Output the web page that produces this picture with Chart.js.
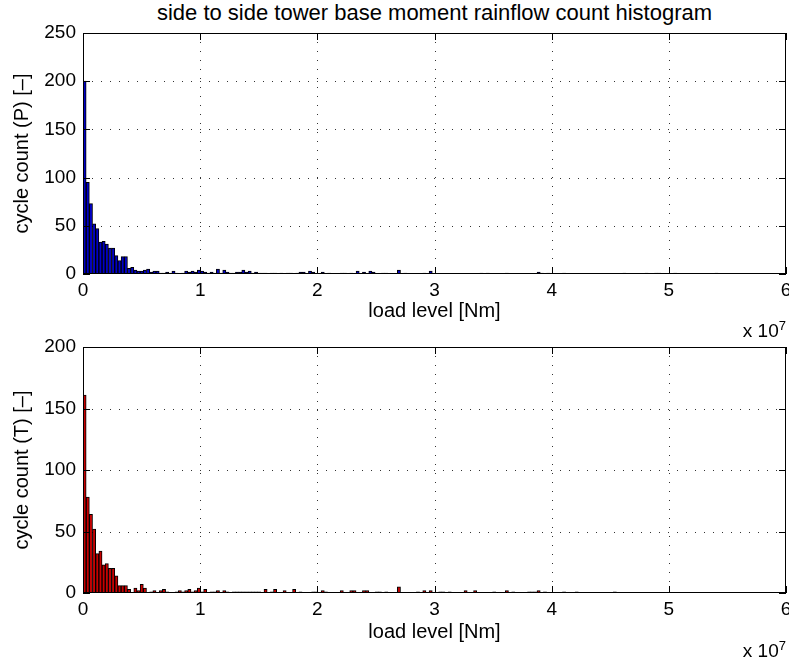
<!DOCTYPE html>
<html>
<head>
<meta charset="utf-8">
<script src="https://cdn.jsdelivr.net/npm/chart.js@4.4.0/dist/chart.umd.min.js"></script>
<style>
  body { margin: 0; background: #fff; }
  #wrap { position: relative; width: 789px; height: 664px; font-family: "Liberation Sans", Arial, sans-serif; color: #000; }
  canvas { position: absolute; left: 0; }
  #title { position: absolute; top: 0; left: 83px; width: 703px; text-align: center; font-size: 22px; white-space: nowrap; }
  .exp { position: absolute; right: 3px; font-size: 19px; white-space: nowrap; }
  .exp sup { font-size: 13px; }
</style>
</head>
<body>
<div id="wrap">
  <div id="title">side to side tower base moment rainflow count histogram</div>
  <canvas id="topChart" width="789" height="340" style="top:0"></canvas>
  <canvas id="bottomChart" width="789" height="339" style="top:325px"></canvas>
  <div class="exp" style="top:318px">x 10<sup>7</sup></div>
  <div class="exp" style="top:638px">x 10<sup>7</sup></div>
</div>
<script>
// rainflow bins: 200 bins of equal width, counts
const binWidth = 2.71e5;

const countsP = [
  200, 95, 73, 52, 47, 33, 34, 31, 27, 27, 19, 14, 18, 18, 6, 7,
  4, 3, 3, 4, 5, 2, 3, 3, 1, 1, 2, 1, 3, 1,
  0, 1, 3, 2, 3, 2, 4, 3, 2, 1, 2, 1, 5, 1, 4, 2, 1, 1, 2, 2, 4, 2, 3, 1, 2, 1,
  1, 1, 0, 1, 1, 0, 1, 0, 1, 1, 0, 1, 2, 2,
  0, 3, 2, 0, 0, 2, 0, 1, 0, 0, 0, 1, 1, 0, 1,
  0, 3, 0, 2, 0, 3, 2, 0, 0, 1, 1, 0, 0, 0, 4,
  0, 1, 0, 0, 0, 0, 0, 1, 0, 3, 0, 0, 0, 0, 0, 0, 0, 0, 0, 0,
  0, 0, 0, 0, 0, 1, 0, 1, 0, 0, 0, 0, 0, 1, 0, 0, 0, 0, 0, 0,
  0, 0, 0, 2, 1, 0, 1, 0, 0, 0, 0, 1, 0, 0, 0, 0, 0, 0, 0, 0,
  0, 0, 0, 0, 0, 0, 0, 0, 0, 0, 1, 0, 0, 0, 0, 0, 0, 1, 0, 0,
  1, 1, 0, 0, 0, 0, 1, 0, 0, 0, 0, 0, 0, 0, 0, 0, 0, 0, 0, 1
];

const countsT = [
  161, 78, 64, 52, 32, 34, 23, 24, 20, 20, 14, 6, 6, 6, 3, 0,
  4, 2, 7, 4, 0, 1, 2, 0, 2, 3, 1, 0, 0, 1,
  2, 1, 2, 3, 1, 2, 4, 1, 3, 0, 1, 1, 2, 0, 2, 1, 0, 1, 1, 1, 1, 1, 1,
  1, 1, 1, 0, 3, 0, 1, 3, 0, 0, 2, 0, 0, 3, 0, 1, 0,
  0, 0, 1, 1, 0, 2, 1, 0, 0, 0, 0, 2, 0, 0, 2, 2, 0, 0, 2, 2,
  0, 0, 1, 1, 0, 1, 0, 0, 0, 5, 0, 0, 0, 0, 0, 1, 0, 2, 0, 2,
  0, 0, 1, 1, 0, 1, 0, 0, 0, 0, 2, 0, 0, 2, 0, 0, 0, 0, 0, 1,
  0, 0, 0, 2, 0, 1, 0, 0, 0, 0, 1, 1, 1, 2, 0, 1, 0, 0, 0, 0,
  0, 1, 0, 0, 0, 1, 0, 0, 0, 0, 0, 0, 0, 0, 0, 0, 0, 1, 0, 0,
  0, 0, 0, 0, 0, 0, 0, 0, 0, 0, 0, 0, 0, 0, 0, 0, 0, 0, 0, 0,
  0, 0, 0, 0, 0, 0, 0, 0, 0, 0
];

const xTicks = [0, 1, 2, 3, 4, 5, 6]; // x 10^7
const xScaleFactor = 1e7;

const FONT = '"Liberation Sans", Arial, sans-serif';

// dotted grid behind the bars
const dottedGrid = {
  id: 'dottedGrid',
  beforeDatasetsDraw(chart) {
    const { ctx, chartArea: a, scales: { x, y } } = chart;
    ctx.save();
    ctx.strokeStyle = '#333';
    ctx.lineWidth = 1;
    ctx.setLineDash([1, 8]);
    ctx.beginPath();
    x.ticks.forEach(t => {
      const px = Math.round(x.getPixelForValue(t.value)) + 0.5;
      if (px <= a.left + 1 || px >= a.right - 1) return;
      ctx.moveTo(px, a.top); ctx.lineTo(px, a.bottom);
    });
    y.ticks.forEach(t => {
      const py = Math.round(y.getPixelForValue(t.value)) + 0.5;
      if (py <= a.top + 1 || py >= a.bottom - 1) return;
      ctx.moveTo(a.left, py); ctx.lineTo(a.right, py);
    });
    ctx.stroke();
    ctx.restore();
  }
};

// MATLAB-like axes box with inward ticks on all four sides
const matlabBox = {
  id: 'matlabBox',
  afterDatasetsDraw(chart) {
    const { ctx, chartArea: a, scales: { x, y } } = chart;
    const len = 7;
    ctx.save();
    ctx.strokeStyle = '#000';
    ctx.lineWidth = 1;
    ctx.strokeRect(a.left + 0.5, a.top + 0.5, a.right - a.left - 1, a.bottom - a.top - 1);
    ctx.beginPath();
    x.ticks.forEach(t => {
      const px = Math.round(x.getPixelForValue(t.value)) + 0.5;
      ctx.moveTo(px, a.bottom); ctx.lineTo(px, a.bottom - len);
      ctx.moveTo(px, a.top); ctx.lineTo(px, a.top + len);
    });
    y.ticks.forEach(t => {
      const py = Math.round(y.getPixelForValue(t.value)) + 0.5;
      ctx.moveTo(a.left, py); ctx.lineTo(a.left + len, py);
      ctx.moveTo(a.right, py); ctx.lineTo(a.right - len, py);
    });
    ctx.stroke();
    ctx.restore();
  }
};

function makeChart(id, counts, yMax, fill, yLabel, cfg) {
  const centers = counts.map((_, i) => (i + 0.5) * binWidth);
  const grid = { display: false, drawTicks: false, offset: false };
  return new Chart(document.getElementById(id), {
    type: 'bar',
    data: {
      datasets: [{
        data: counts.map((c, i) => ({ x: centers[i], y: c })),
        backgroundColor: fill,
        borderColor: '#000',
        borderWidth: 1,
        barPercentage: 1,
        categoryPercentage: 1
      }]
    },
    options: {
      responsive: false,
      animation: false,
      layout: { padding: { top: cfg.padTop, right: 3, left: 0, bottom: 0 } },
      plugins: { legend: { display: false }, tooltip: { enabled: false } },
      scales: {
        x: {
          type: 'linear',
          offset: false,
          min: xTicks[0] * xScaleFactor,
          max: xTicks[xTicks.length - 1] * xScaleFactor,
          border: { display: false },
          grid: grid,
          ticks: {
            stepSize: xScaleFactor,
            autoSkip: false,
            maxRotation: 0,
            padding: cfg.xTickPad,
            color: '#000',
            font: { family: FONT, size: 19 },
            callback: v => String(v / xScaleFactor)
          },
          title: {
            display: true,
            text: 'load level [Nm]',
            color: '#000',
            font: { family: FONT, size: 20 },
            padding: { top: 0, bottom: cfg.xTitlePad }
          },
          afterFit: s => { s.height = cfg.xHeight; s.paddingRight = 0; s.paddingLeft = 0; }
        },
        y: {
          min: 0,
          max: yMax,
          border: { display: false },
          grid: grid,
          ticks: {
            stepSize: 50,
            padding: 7,
            color: '#000',
            font: { family: FONT, size: 19 }
          },
          title: {
            display: true,
            text: yLabel,
            color: '#000',
            font: { family: FONT, size: 20 },
            padding: { top: 10, bottom: 0 }
          },
          afterFit: s => { s.width = 83; s.paddingTop = 0; s.paddingBottom = 0; }
        }
      }
    },
    plugins: [dottedGrid, matlabBox]
  });
}

makeChart('topChart', countsP, 250, '#0000c8', 'cycle count (P) [\u2013]',
  { padTop: 33, xHeight: 66, xTickPad: 5, xTitlePad: 17 });
makeChart('bottomChart', countsT, 200, '#c80000', 'cycle count (T) [\u2013]',
  { padTop: 22, xHeight: 71, xTickPad: 5, xTitlePad: 20 });
</script>
</body>
</html>
